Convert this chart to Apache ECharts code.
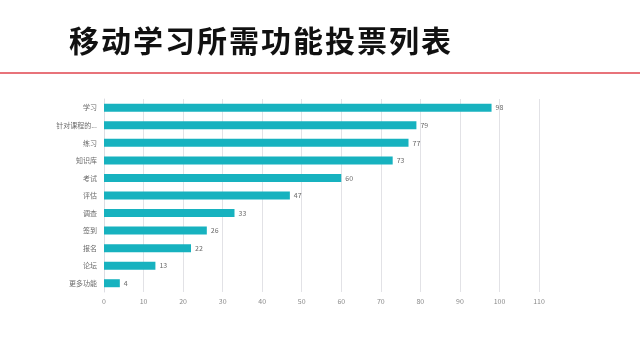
<!DOCTYPE html>
<html>
<head>
<meta charset="utf-8">
<script src="https://cdn.jsdelivr.net/npm/echarts@6/dist/echarts.min.js"></script>
<style>
html,body{margin:0;padding:0;background:#fff;}
#chart{width:640px;height:357px;}
</style>
</head>
<body>
<div id="chart"></div>
<script>
const titleText = '移动学习所需功能投票列表';
const categories = ['学习','针对课程的...','练习','知识库','考试','评估','调查','签到','报名','论坛','更多功能'];
const votes = [98,79,77,73,60,47,33,26,22,13,4];
const xTicks = [0,10,20,30,40,50,60,70,80,90,100,110];

const chart = echarts.init(document.getElementById('chart'));
chart.setOption({
  animation: false,
  backgroundColor: '#ffffff',
  title: {
    text: titleText.split('').map(function (c) { return '{c|' + c + '}'; }).join(''),
    left: 68,
    top: 26,
    padding: 0,
    textStyle: {
      rich: {
        c: {
          fontFamily: 'Noto Sans CJK SC',
          fontSize: 30,
          lineHeight: 30,
          fontWeight: 'bold',
          color: '#111111',
          padding: [0, 1, 0, 1]
        }
      }
    }
  },
  graphic: [{
    type: 'line',
    shape: {x1: 0, y1: 73, x2: 640, y2: 73},
    style: {stroke: '#e0444e', lineWidth: 1.5}
  }],
  grid: {left: 104, right: 101, top: 99, bottom: 65, containLabel: false},
  xAxis: {
    type: 'value',
    min: xTicks[0],
    max: xTicks[xTicks.length - 1],
    interval: 10,
    axisLine: {show: false},
    axisTick: {show: false},
    axisLabel: {
      color: '#8a8a8a',
      fontSize: 7,
      fontFamily: 'Noto Sans CJK SC',
      margin: 6
    },
    splitLine: {show: true, lineStyle: {color: '#e2e2e6', width: 1}}
  },
  yAxis: {
    type: 'category',
    data: categories,
    inverse: true,
    axisLine: {show: true, lineStyle: {color: '#dcdce2', width: 1}},
    axisTick: {show: false},
    axisLabel: {
      color: '#6a6a6a',
      fontSize: 7,
      fontFamily: 'Noto Sans CJK SC',
      margin: 7
    }
  },
  series: [{
    type: 'bar',
    data: votes,
    barWidth: 8,
    itemStyle: {color: '#17b2bf'},
    label: {
      show: true,
      position: 'right',
      distance: 4,
      color: '#6a6a6a',
      fontSize: 7,
      fontFamily: 'Noto Sans CJK SC'
    }
  }]
});
</script>
</body>
</html>
